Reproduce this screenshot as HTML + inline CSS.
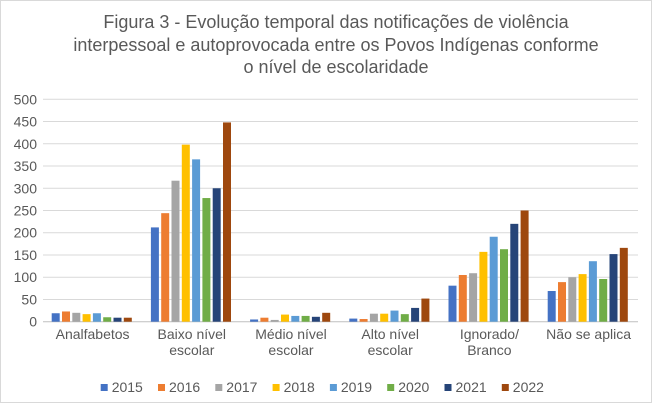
<!DOCTYPE html>
<html><head><meta charset="utf-8"><style>
body{margin:0;background:#fff;}
svg{display:block;font-family:"Liberation Sans",sans-serif;}
</style></head><body>
<svg id="c" width="652" height="403" viewBox="0 0 652 403">
<rect x="0.5" y="0.5" width="651" height="402" fill="#fff" stroke="#d9d9d9"/>
<text x="336" y="28" font-size="18" fill="#595959" text-anchor="middle">Figura 3 - Evolução temporal das notificações de violência</text>
<text x="336" y="51" font-size="18" fill="#595959" text-anchor="middle">interpessoal e autoprovocada entre os Povos Indígenas conforme</text>
<text x="336" y="73" font-size="18" fill="#595959" text-anchor="middle">o nível de escolaridade</text>
<g id="g"></g>
</svg>
<script>
var g=document.getElementById('g'),s='';
var y0=321.7,k=222.4/500,x0=43,cw=99.2;
for(var v=0;v<=500;v+=50){var y=y0-v*k;
s+='<line x1="'+x0+'" x2="638" y1="'+y+'" y2="'+y+'" stroke="'+(v==0?'#bfbfbf':'#d9d9d9')+'" stroke-width="1"/>';
s+='<text x="37" y="'+(y+5)+'" font-size="14" fill="#595959" text-anchor="end">'+v+'</text>';}
var cols=['#4472c4','#ed7d31','#a5a5a5','#ffc000','#5b9bd5','#70ad47','#264478','#9e480e'];
var d=[[19,23,20,17,19,10,9,9],[212,244,317,398,365,278,300,448],[5,9,4,16,13,13,11,20],[7,6,18,18,25,17,31,52],[81,105,109,157,191,163,220,250],[69,89,100,107,136,96,152,166]];
var labs=[['Analfabetos'],['Baixo nível','escolar'],['Médio nível','escolar'],['Alto nível','escolar'],['Ignorado/','Branco'],['Não se aplica']];
for(var i=0;i<6;i++){var cx=x0+i*cw;
for(var j=0;j<8;j++){var h=d[i][j]*k;s+='<rect x="'+(cx+8.7+j*10.3)+'" y="'+(y0-h)+'" width="8" height="'+h+'" fill="'+cols[j]+'"/>';}
for(var l=0;l<labs[i].length;l++)s+='<text x="'+(cx+cw/2)+'" y="'+(339+l*16)+'" font-size="14" fill="#595959" text-anchor="middle">'+labs[i][l]+'</text>';}
for(var j=0;j<8;j++){var lx=100.7+j*57.3;s+='<rect x="'+lx+'" y="384" width="7" height="7" fill="'+cols[j]+'"/><text x="'+(lx+11)+'" y="392" font-size="14" fill="#595959">'+(2015+j)+'</text>';}
g.innerHTML=s;
</script>
</body></html>
